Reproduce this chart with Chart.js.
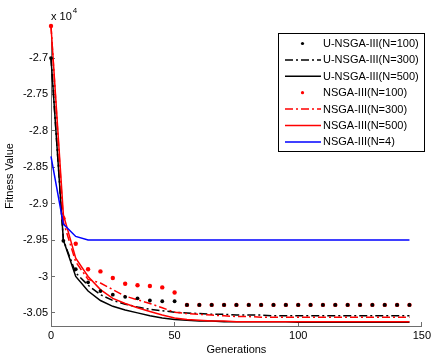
<!DOCTYPE html>
<html><head><meta charset="utf-8">
<script src="https://cdn.jsdelivr.net/npm/chart.js@4.4.0/dist/chart.umd.min.js"></script>
<style>html,body{margin:0;padding:0;background:#fff;}canvas{display:block}</style>
</head><body>
<canvas id="c" width="438" height="357"></canvas>
<script>
// Values in units of 10^4
const generations = [0,5,10,15,20,25,30,35,40,45,50,55,60,65,70,75,80,85,90,95,100,105,110,115,120,125,130,135,140,145];
const uNsga100 = [-2.700,-2.951,-2.990,-3.008,-3.020,-3.025,-3.028,-3.030,-3.033,-3.034,-3.034,-3.039,-3.039,-3.039,-3.039,-3.039,-3.039,-3.039,-3.039,-3.039,-3.039,-3.039,-3.039,-3.039,-3.039,-3.039,-3.039,-3.039,-3.039,-3.039];
const uNsga300 = [-2.700,-2.950,-2.995,-3.012,-3.025,-3.033,-3.038,-3.042,-3.045,-3.047,-3.049,-3.050,-3.051,-3.052,-3.052,-3.053,-3.053,-3.053,-3.054,-3.054,-3.054,-3.054,-3.054,-3.054,-3.054,-3.054,-3.054,-3.054,-3.054,-3.054];
const uNsga500 = [-2.700,-2.950,-3.000,-3.020,-3.033,-3.041,-3.046,-3.050,-3.054,-3.057,-3.059,-3.060,-3.061,-3.061,-3.062,-3.062,-3.062,-3.062,-3.062,-3.062,-3.063,-3.063,-3.063,-3.063,-3.063,-3.063,-3.063,-3.063,-3.063,-3.063];
const nsga100 = [-2.656,-2.920,-2.955,-2.990,-2.993,-3.002,-3.010,-3.012,-3.013,-3.015,-3.022,-3.039,-3.039,-3.039,-3.039,-3.039,-3.039,-3.039,-3.039,-3.039,-3.039,-3.039,-3.039,-3.039,-3.039,-3.039,-3.039,-3.039,-3.039,-3.039];
const nsga300 = [-2.656,-2.925,-2.980,-3.004,-3.009,-3.018,-3.027,-3.032,-3.037,-3.043,-3.049,-3.051,-3.052,-3.053,-3.054,-3.055,-3.055,-3.056,-3.056,-3.056,-3.056,-3.056,-3.056,-3.056,-3.056,-3.056,-3.056,-3.056,-3.056,-3.056];
const nsga500 = [-2.656,-2.915,-2.975,-3.000,-3.018,-3.030,-3.037,-3.043,-3.048,-3.053,-3.057,-3.059,-3.060,-3.061,-3.061,-3.062,-3.062,-3.062,-3.062,-3.062,-3.062,-3.062,-3.062,-3.062,-3.062,-3.062,-3.062,-3.062,-3.062,-3.062];
const nsga4 = [-2.835,-2.928,-2.945,-2.950,-2.950,-2.950,-2.950,-2.950,-2.950,-2.950,-2.950,-2.950,-2.950,-2.950,-2.950,-2.950,-2.950,-2.950,-2.950,-2.950,-2.950,-2.950,-2.950,-2.950,-2.950,-2.950,-2.950,-2.950,-2.950,-2.950];
const seriesNames = ['U-NSGA-III(N=100)','U-NSGA-III(N=300)','U-NSGA-III(N=500)','NSGA-III(N=100)','NSGA-III(N=300)','NSGA-III(N=500)','NSGA-III(N=4)'];
const xTicks = [0,50,100,150];
const yTicks = [-3.05,-3,-2.95,-2.9,-2.85,-2.8,-2.75,-2.7];
const xLabel = 'Generations';
const yLabel = 'Fitness Value';

const FONT = 'Liberation Sans, Arial, sans-serif';
const AXIS = '#6e6e6e';
const DASHDOT = [8,3,2,3];
const pts = arr => generations.map((g,i)=>({x:g,y:arr[i]}));
function markerDs(label, arr, color, r){
  return {label, data:pts(arr), showLine:false, pointRadius:r, pointStyle:'circle',
    pointBackgroundColor:color, pointBorderColor:color, pointBorderWidth:0, borderColor:color, backgroundColor:color, _kind:'dot'};
}
function lineDs(label, arr, color, dash){
  return {label, data:pts(arr), borderColor:color, backgroundColor:color, borderWidth:1.5,
    borderDash:dash||[], pointRadius:0, tension:0, fill:false, _kind:'line'};
}
const datasets = [
  markerDs(seriesNames[0], uNsga100, '#000000', 1.9),
  lineDs(seriesNames[1], uNsga300, '#000000', DASHDOT),
  lineDs(seriesNames[2], uNsga500, '#000000'),
  markerDs(seriesNames[3], nsga100, '#ff0000', 2.2),
  lineDs(seriesNames[4], nsga300, '#ff0000', DASHDOT),
  lineDs(seriesNames[5], nsga500, '#ff0000'),
  lineDs(seriesNames[6], nsga4, '#0000ff'),
];
datasets.forEach((d,i)=>{ d.order = datasets.length - i; d.clip = false; });
datasets[0].order = 0; // black markers on top

const overlay = {
  id:'overlay',
  afterDraw(chart){
    const ctx = chart.ctx;
    const a = chart.chartArea;
    ctx.save();
    ctx.fillStyle = '#000';
    ctx.textBaseline = 'middle';
    ctx.textAlign = 'left';
    ctx.font = '11px ' + FONT;
    ctx.fillText('x 10', a.left, 17);
    const w = ctx.measureText('x 10').width;
    ctx.font = '8px ' + FONT;
    ctx.fillText('4', a.left + w + 1, 11);
    const bx = 278, by = 33, bw = 146, bh = 118;
    ctx.fillStyle = '#fff';
    ctx.fillRect(bx, by, bw, bh);
    ctx.strokeStyle = '#000';
    ctx.lineWidth = 1;
    ctx.setLineDash([]);
    ctx.strokeRect(bx + 0.5, by + 0.5, bw, bh);
    ctx.font = '11px ' + FONT;
    chart.data.datasets.forEach((d,i)=>{
      const cy = 43.5 + i*16.4;
      if (d._kind === 'dot') {
        ctx.fillStyle = d.pointBackgroundColor;
        ctx.beginPath(); ctx.arc(302.5, cy, 1.6, 0, Math.PI*2); ctx.fill();
      } else {
        ctx.strokeStyle = d.borderColor;
        ctx.lineWidth = d.borderWidth;
        ctx.setLineDash(d.borderDash || []);
        ctx.beginPath(); ctx.moveTo(285, cy); ctx.lineTo(321, cy); ctx.stroke();
        ctx.setLineDash([]);
      }
      ctx.fillStyle = '#000';
      ctx.textAlign = 'left';
      ctx.fillText(d.label, 323, cy + 0.5);
    });
    ctx.restore();
  }
};

new Chart(document.getElementById('c'), {
  type:'line',
  data:{datasets},
  options:{
    responsive:false, animation:false, devicePixelRatio:1,
    layout:{padding:{left:0, top:26, right:11, bottom:0}},
    plugins:{legend:{display:false}, tooltip:{enabled:false}},
    scales:{
      x:{type:'linear', min:0, max:150,
        afterBuildTicks:s=>{ s.ticks = xTicks.map(v=>({value:v})); },
        afterFit:s=>{ s.height = 31; },
        ticks:{font:{family:FONT,size:11}, color:'#000', padding:7, maxRotation:0, autoSkip:false, callback:v=>String(v)},
        grid:{drawOnChartArea:false, drawTicks:true, tickLength:-4, color:AXIS},
        border:{color:AXIS, width:1},
        title:{display:true, text:xLabel, font:{family:FONT,size:11}, color:'#000', padding:{top:0,bottom:0}}
      },
      y:{type:'linear', min:-3.068, max:-2.656,
        afterBuildTicks:s=>{ s.ticks = yTicks.map(v=>({value:v})); },
        afterFit:s=>{ s.width = 51; },
        ticks:{font:{family:FONT,size:11}, color:'#000', padding:7, autoSkip:false, callback:v=>String(+(+v).toFixed(2))},
        grid:{drawOnChartArea:false, drawTicks:true, tickLength:-4, color:AXIS},
        border:{color:AXIS, width:1},
        title:{display:true, text:yLabel, font:{family:FONT,size:11}, color:'#000', padding:{top:3,bottom:0}}
      }
    }
  },
  plugins:[overlay]
});
</script>
</body></html>
